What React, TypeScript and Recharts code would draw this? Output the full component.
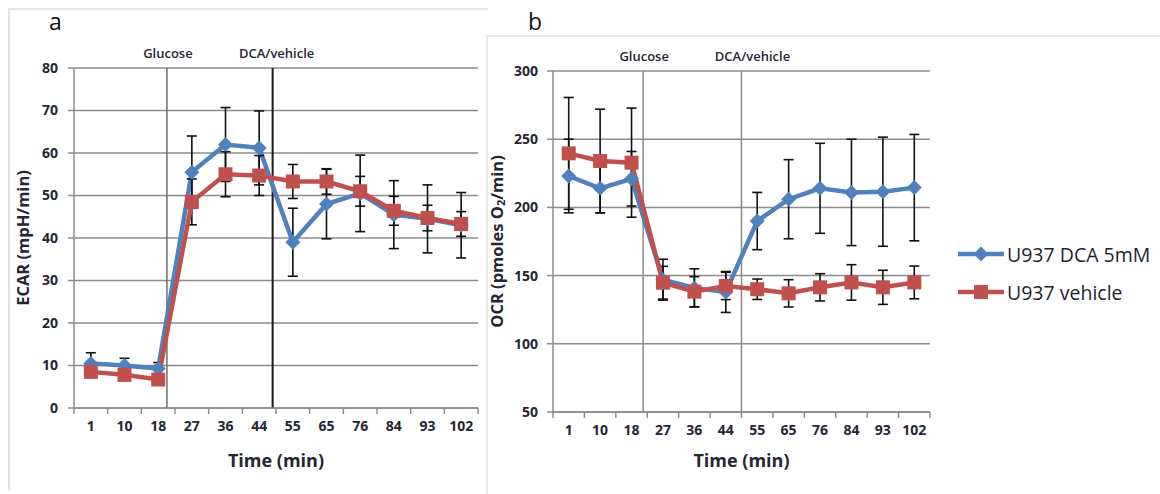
import React from 'react';
import {
  LineChart,
  Line,
  XAxis,
  YAxis,
  CartesianGrid,
  ErrorBar,
  ReferenceLine,
} from 'recharts';

// sampling times (min)
const times = ['1', '10', '18', '27', '36', '44', '55', '65', '76', '84', '93', '102'];

// panel a: ECAR (mpH/min)
const ecarDca = [10.5, 10, 9.3, 55.5, 62, 61.2, 39, 48, 50.5, 45.5, 44.5, 43];
const ecarDcaErr = [2.5, 1.7, 1.4, 8.5, 8.7, 8.7, 8, 8.2, 9, 8, 8, 7.7];
const ecarVeh = [8.5, 7.8, 6.7, 48.5, 55, 54.7, 53.3, 53.3, 51, 46.4, 44.7, 43.3];
const ecarVehErr = [1, 1, 1, 5.4, 5.3, 4.7, 4, 3, 3.5, 3.4, 3, 2.9];
const ecarTicks = [0, 10, 20, 30, 40, 50, 60, 70, 80];

// panel b: OCR (pmoles O2/min)
const ocrDca = [223, 214, 221, 147, 141, 138, 190, 206, 214, 211, 211.5, 214.5];
const ocrDcaErr = [27, 18, 20, 15, 14, 15, 21, 29, 33, 39, 40, 39];
const ocrVeh = [239.6, 234, 232.8, 144.8, 138.2, 142.4, 140, 137, 141.4, 145, 141.4, 145];
const ocrVehErr = [41, 38, 40, 12, 11, 10, 7.5, 10, 10, 13, 12.5, 12];
const ocrTicks = [50, 100, 150, 200, 250, 300];

// injection events, in units of sampling intervals
const eventsA = [
  { at: 2.76, label: 'Glucose', color: '#6e6e6e', dx: 1 },
  { at: 5.9, label: 'DCA/vehicle', color: '#1a1a1a', dx: 4 },
];
const eventsB = [
  { at: 2.87, label: 'Glucose', color: '#8a8a8a', dx: 1 },
  { at: 6.0, label: 'DCA/vehicle', color: '#8a8a8a', dx: 11 },
];

const seriesNames = ['U937 DCA 5mM', 'U937 vehicle'];

const BLUE = '#4F81BD';
const RED = '#C0504D';
const GRID = '#8c8c8c';
const TXT = '#262633';
const FONT = '"Open Sans", sans-serif';

const ecarData = times.map((t, i) => ({
  pos: i + 0.5,
  t,
  dca: ecarDca[i],
  dcaErr: ecarDcaErr[i],
  veh: ecarVeh[i],
  vehErr: ecarVehErr[i],
}));

const ocrData = times.map((t, i) => ({
  pos: i + 0.5,
  t,
  dca: ocrDca[i],
  dcaErr: ocrDcaErr[i],
  veh: ocrVeh[i],
  vehErr: ocrVehErr[i],
}));

const xTickPos = times.map((_, i) => i + 0.5);

const Diamond = (props: any) => {
  const { cx, cy, index } = props;
  if (cx == null || cy == null) return <g key={`dd-${index}`} />;
  const r = 7.5;
  return (
    <path
      key={`dd-${index}`}
      d={`M${cx},${cy - r}L${cx + r},${cy}L${cx},${cy + r}L${cx - r},${cy}Z`}
      fill={BLUE}
    />
  );
};

const Square = (props: any) => {
  const { cx, cy, index } = props;
  if (cx == null || cy == null) return <g key={`sq-${index}`} />;
  const s = 7;
  return <rect key={`sq-${index}`} x={cx - s} y={cy - s} width={s * 2} height={s * 2} fill={RED} />;
};

// tick label in the middle of each interval, tick mark at its boundaries
const XTick = (props: any) => {
  const { x, y, payload, index, step } = props;
  const axisY = y - 8;
  const last = index === times.length - 1;
  return (
    <g>
      <line x1={x - step / 2} x2={x - step / 2} y1={axisY} y2={axisY + 6} stroke={GRID} strokeWidth={1.5} />
      {last && (
        <line x1={x + step / 2} x2={x + step / 2} y1={axisY} y2={axisY + 6} stroke={GRID} strokeWidth={1.5} />
      )}
      <text
        x={x}
        y={y + 15}
        textAnchor="middle"
        fill={TXT}
        fontSize={14}
        fontWeight={700}
        fontFamily={FONT}
      >
        {times[Math.floor(payload.value)]}
      </text>
    </g>
  );
};

const YTitle = (props: any) => {
  const { viewBox, dx, children } = props;
  const cx = viewBox.x + dx;
  const cy = viewBox.y + viewBox.height / 2;
  return (
    <text
      x={cx}
      y={cy}
      transform={`rotate(-90 ${cx} ${cy})`}
      textAnchor="middle"
      dominantBaseline="central"
      fill={TXT}
      fontSize={16.5}
      fontWeight={700}
      fontFamily={FONT}
    >
      {children}
    </text>
  );
};

const PanelA = () => {
  const plotW = 404;
  return (
    <LineChart
      width={490}
      height={494}
      data={ecarData}
      margin={{ top: 68, right: 12, bottom: 26, left: 0 }}
    >
      <CartesianGrid vertical={false} stroke={GRID} strokeWidth={1.5} />
      <XAxis
        type="number"
        dataKey="pos"
        domain={[0, 12]}
        ticks={xTickPos}
        interval={0}
        height={60}
        tickSize={6}
        tickMargin={2}
        tickLine={false}
        axisLine={{ stroke: GRID, strokeWidth: 1.5 }}
        tick={<XTick step={plotW / times.length} />}
        label={{
          value: 'Time (min)',
          position: 'insideBottom',
          offset: 1,
          fill: TXT,
          fontSize: 18,
          fontWeight: 700,
          fontFamily: FONT,
        }}
      />
      <YAxis
        domain={[0, 80]}
        ticks={ecarTicks}
        interval={0}
        width={74}
        tickSize={6}
        tickMargin={10}
        axisLine={{ stroke: GRID, strokeWidth: 1.5 }}
        tickLine={{ stroke: GRID, strokeWidth: 1.5 }}
        tick={{ fill: TXT, fontSize: 14, fontWeight: 700, fontFamily: FONT }}
        label={{ content: (p: any) => <YTitle viewBox={p.viewBox} dx={22}>ECAR (mpH/min)</YTitle> }}
      />
      {eventsA.map((e) => (
        <ReferenceLine
          key={e.label}
          x={e.at}
          stroke={e.color}
          strokeWidth={e.color === '#1a1a1a' ? 2 : 1.5}
          label={{
            value: e.label,
            position: 'top',
            offset: 10,
            dx: e.dx,
            fill: TXT,
            fontSize: 13,
            fontWeight: 600,
            fontFamily: FONT,
          }}
        />
      ))}
      <Line
        type="linear"
        dataKey="dca"
        stroke={BLUE}
        strokeWidth={4.5}
        dot={Diamond}
        activeDot={false}
        isAnimationActive={false}
      >
        <ErrorBar dataKey="dcaErr" direction="y" width={5} stroke="#111" strokeWidth={1.6} />
      </Line>
      <Line
        type="linear"
        dataKey="veh"
        stroke={RED}
        strokeWidth={4.5}
        dot={Square}
        activeDot={false}
        isAnimationActive={false}
      >
        <ErrorBar dataKey="vehErr" direction="y" width={5} stroke="#111" strokeWidth={1.6} />
      </Line>
    </LineChart>
  );
};

const PanelB = () => {
  const plotW = 377;
  return (
    <LineChart
      width={460}
      height={494}
      data={ocrData}
      margin={{ top: 71, right: 10, bottom: 22, left: 0 }}
    >
      <CartesianGrid vertical={false} stroke={GRID} strokeWidth={1.5} />
      <XAxis
        type="number"
        dataKey="pos"
        domain={[0, 12]}
        ticks={xTickPos}
        interval={0}
        height={60}
        tickSize={6}
        tickMargin={2}
        tickLine={false}
        axisLine={{ stroke: GRID, strokeWidth: 1.5 }}
        tick={<XTick step={plotW / times.length} />}
        label={{
          value: 'Time (min)',
          position: 'insideBottom',
          offset: 5,
          fill: TXT,
          fontSize: 18,
          fontWeight: 700,
          fontFamily: FONT,
        }}
      />
      <YAxis
        domain={[50, 300]}
        ticks={ocrTicks}
        interval={0}
        width={73}
        tickSize={6}
        tickMargin={9}
        axisLine={{ stroke: GRID, strokeWidth: 1.5 }}
        tickLine={{ stroke: GRID, strokeWidth: 1.5 }}
        tick={{ fill: TXT, fontSize: 14, fontWeight: 700, fontFamily: FONT }}
        label={{
          content: (p: any) => (
            <YTitle viewBox={p.viewBox} dx={16}>
              OCR (pmoles O
              <tspan fontSize={11} dy={4}>2</tspan>
              <tspan dy={-4}>/min)</tspan>
            </YTitle>
          ),
        }}
      />
      {eventsB.map((e) => (
        <ReferenceLine
          key={e.label}
          x={e.at}
          stroke={e.color}
          strokeWidth={1.5}
          label={{
            value: e.label,
            position: 'top',
            offset: 10,
            dx: e.dx,
            fill: TXT,
            fontSize: 13,
            fontWeight: 600,
            fontFamily: FONT,
          }}
        />
      ))}
      <Line
        type="linear"
        dataKey="dca"
        stroke={BLUE}
        strokeWidth={4.5}
        dot={Diamond}
        activeDot={false}
        isAnimationActive={false}
      >
        <ErrorBar dataKey="dcaErr" direction="y" width={5} stroke="#111" strokeWidth={1.6} />
      </Line>
      <Line
        type="linear"
        dataKey="veh"
        stroke={RED}
        strokeWidth={4.5}
        dot={Square}
        activeDot={false}
        isAnimationActive={false}
      >
        <ErrorBar dataKey="vehErr" direction="y" width={5} stroke="#111" strokeWidth={1.6} />
      </Line>
    </LineChart>
  );
};

const LegendRow = ({ name, kind }: { name: string; kind: 'diamond' | 'square' }) => {
  const color = kind === 'diamond' ? BLUE : RED;
  return (
    <div style={{ display: 'flex', alignItems: 'center', height: 38 }}>
      <svg width={48} height={20}>
        <line x1={0} x2={46} y1={10} y2={10} stroke={color} strokeWidth={4.5} />
        {kind === 'diamond' ? (
          <path d="M23,2.5L30.5,10L23,17.5L15.5,10Z" fill={color} />
        ) : (
          <rect x={16} y={3} width={14} height={14} fill={color} />
        )}
      </svg>
      <span style={{ fontFamily: FONT, fontSize: 19.5, color: '#1f1f2e', marginLeft: 1 }}>{name}</span>
    </div>
  );
};

export default function App() {
  return (
    <div style={{ position: 'absolute', left: 0, top: 0, width: 1160, height: 494, background: '#fff', overflow: 'hidden' }}>
      <div style={{ position: 'absolute', left: 8, top: 8, width: 478, height: 480, borderTop: '2px solid #e4e4e4', borderLeft: '2px solid #e4e4e4' }} />
      <div style={{ position: 'absolute', left: 486, top: 35, width: 680, height: 470, borderTop: '2px solid #e8e8e8', borderLeft: '2px solid #e8e8e8' }} />
      <div style={{ position: 'absolute', left: 0, top: 0 }}>
        <PanelA />
      </div>
      <div style={{ position: 'absolute', left: 480, top: 0 }}>
        <PanelB />
      </div>
      <div style={{ position: 'absolute', left: 49, top: 5, fontFamily: FONT, fontSize: 23, color: '#111' }}>a</div>
      <div style={{ position: 'absolute', left: 528, top: 5, fontFamily: FONT, fontSize: 23, color: '#111' }}>b</div>
      <div style={{ position: 'absolute', left: 958, top: 235 }}>
        <LegendRow name={seriesNames[0]} kind="diamond" />
        <LegendRow name={seriesNames[1]} kind="square" />
      </div>
    </div>
  );
}
